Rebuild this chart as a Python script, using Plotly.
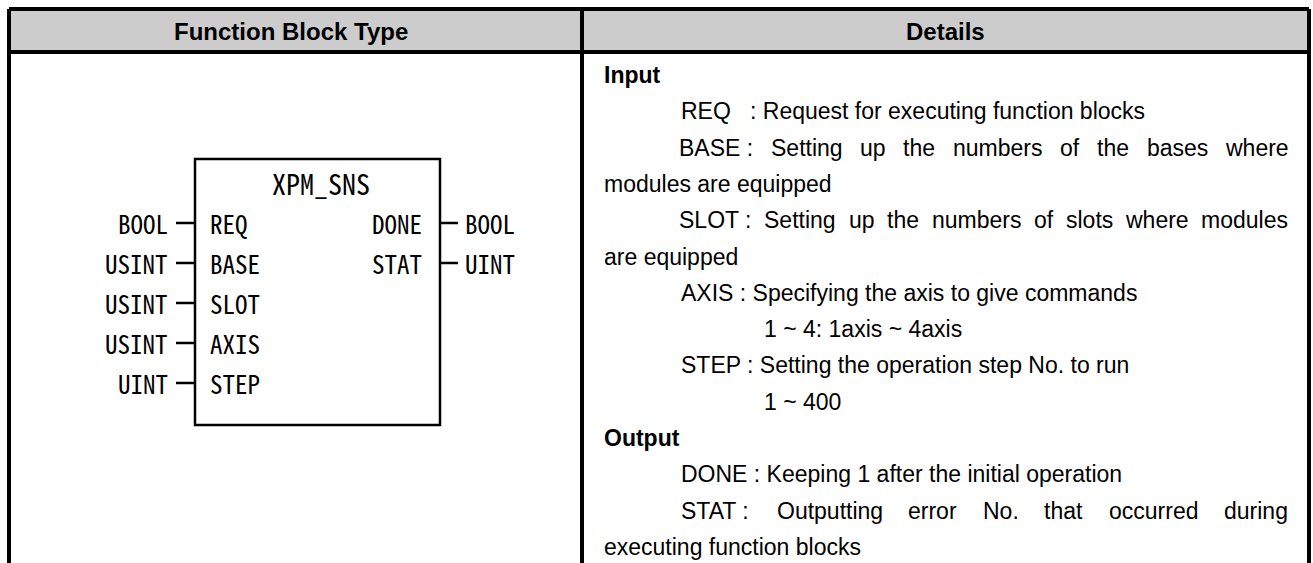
import plotly.graph_objects as go

# ---------------- data ----------------
headers = ["Function Block Type", "Details"]
fb_name = "XPM_SNS"
in_types = ["BOOL", "USINT", "USINT", "USINT", "UINT"]
in_pins = ["REQ", "BASE", "SLOT", "AXIS", "STEP"]
out_pins = ["DONE", "STAT"]
out_types = ["BOOL", "UINT"]

detail_text = [
    "Input",
    "REQ   : Request for executing function blocks",
    "BASE : Setting up the numbers of the bases where",
    "modules are equipped",
    "SLOT : Setting up the numbers of slots where modules",
    "are equipped",
    "AXIS : Specifying the axis to give commands",
    "1 ~ 4: 1axis ~ 4axis",
    "STEP : Setting the operation step No. to run",
    "1 ~ 400",
    "Output",
    "DONE : Keeping 1 after the initial operation",
    "STAT : Outputting error No. that occurred during",
    "executing function blocks",
]
detail_indent = [0, 1, 1, 0, 1, 0, 1, 2, 1, 2, 0, 1, 1, 0]
detail_bold = [True, False, False, False, False, False, False, False, False, False, True, False, False, False]
detail_justify = [False, False, True, False, True, False, False, False, False, False, False, False, True, False]

# ---------------- layout constants ----------------
W, H = 1313, 563
X0, XM, X1 = 9, 582, 1309
Y0, YH = 9, 52
BW = 4
TXT_FONT = "Liberation Sans, Arial, sans-serif"
FB_FONT = "Noto Sans Mono CJK KR, Noto Sans Mono CJK SC, DejaVu Sans Mono, monospace"
FS = 23
line0, dline = 75, 36.3
indent_x = [602, 679, 762]
right_edge = 1288

ARIAL = {' ': 278, 'a': 556, 'b': 556, 'c': 500, 'd': 556, 'e': 556, 'f': 278, 'g': 556, 'h': 556, 'i': 222,
         'j': 222, 'k': 500, 'l': 222, 'm': 833, 'n': 556, 'o': 556, 'p': 556, 'q': 556, 'r': 333, 's': 500,
         't': 278, 'u': 556, 'v': 500, 'w': 722, 'x': 500, 'y': 500, 'z': 500, 'A': 667, 'B': 667, 'C': 722,
         'D': 722, 'E': 667, 'F': 611, 'G': 778, 'H': 722, 'I': 278, 'J': 500, 'K': 667, 'L': 556, 'M': 833,
         'N': 722, 'O': 778, 'P': 667, 'Q': 778, 'R': 722, 'S': 667, 'T': 611, 'U': 722, 'V': 667, 'W': 944,
         'X': 667, 'Y': 667, 'Z': 611, '.': 278, ':': 278, ',': 278, '~': 584}


def text_width(s, size):
    return sum(ARIAL.get(c, 556) for c in s) / 1000.0 * size


fig = go.Figure()
shapes = []
ann = []

# header fill
shapes.append(dict(type="rect", x0=X0, x1=X1, y0=Y0, y1=YH, fillcolor="#cccccc", line_width=0, layer="below"))
# borders
for (xa, ya, xb, yb) in [(X0, Y0, X1, Y0), (X0, YH, X1, YH), (X0, Y0, X0, H + 5), (X1, Y0, X1, H + 5),
                         (XM, Y0, XM, H + 5)]:
    shapes.append(dict(type="line", x0=xa, y0=ya, x1=xb, y1=yb, line=dict(color="black", width=BW)))

# headers
for i, h in enumerate(headers):
    cx = (X0 + XM) / 2 - 5 if i == 0 else (XM + X1) / 2
    ann.append(dict(x=cx, y=(Y0 + YH) / 2 + 1, text=f"<b>{h}</b>", showarrow=False,
                    font=dict(family=TXT_FONT, size=FS + 1, color="black"), xanchor="center", yanchor="middle"))

# details text
for k, t in enumerate(detail_text):
    y = line0 + k * dline
    x = indent_x[detail_indent[k]]
    if detail_justify[k]:
        words = t.split()
        if len(words) > 1 and words[1] == ":":
            words = [words[0] + " " + words[1]] + words[2:]
        widths = [text_width(p, FS) for p in words]
        gap = (right_edge - x - sum(widths)) / (len(words) - 1)
        cur = x
        for j, p in enumerate(words):
            ann.append(dict(x=cur + widths[j] / 2, y=y, text=p, showarrow=False, xanchor="center",
                            yanchor="middle", font=dict(family=TXT_FONT, size=FS, color="black")))
            cur += widths[j] + gap
    else:
        txt = f"<b>{t}</b>" if detail_bold[k] else t.replace("  ", "\u00a0 ")
        ann.append(dict(x=x, y=y, text=txt, showarrow=False, xanchor="left", yanchor="middle",
                        font=dict(family=TXT_FONT, size=FS, color="black")))

# function block diagram
BX0, BX1, BY0, BY1 = 195, 440, 159, 425
shapes.append(dict(type="rect", x0=BX0, x1=BX1, y0=BY0, y1=BY1, line=dict(color="black", width=2.5),
                   fillcolor="white"))
ann.append(dict(x=(BX0 + BX1) / 2 + 3, y=183, text=fb_name, showarrow=False, xanchor="center", yanchor="middle",
                font=dict(family=FB_FONT, size=28, color="black")))
pin0, dpin = 223, 40
FBS = 25
for i, (tp, pn) in enumerate(zip(in_types, in_pins)):
    y = pin0 + i * dpin
    shapes.append(dict(type="line", x0=BX0 - 19, x1=BX0, y0=y, y1=y, line=dict(color="black", width=2.5)))
    ann.append(dict(x=BX0 - 25, y=y, text=tp, showarrow=False, xanchor="right", yanchor="middle",
                    font=dict(family=FB_FONT, size=FBS, color="black")))
    ann.append(dict(x=BX0 + 13, y=y, text=pn, showarrow=False, xanchor="left", yanchor="middle",
                    font=dict(family=FB_FONT, size=FBS, color="black")))
for i, (pn, tp) in enumerate(zip(out_pins, out_types)):
    y = pin0 + i * dpin
    shapes.append(dict(type="line", x0=BX1, x1=BX1 + 18, y0=y, y1=y, line=dict(color="black", width=2.5)))
    ann.append(dict(x=BX1 - 16, y=y, text=pn, showarrow=False, xanchor="right", yanchor="middle",
                    font=dict(family=FB_FONT, size=FBS, color="black")))
    ann.append(dict(x=BX1 + 23, y=y, text=tp, showarrow=False, xanchor="left", yanchor="middle",
                    font=dict(family=FB_FONT, size=FBS, color="black")))

fig.update_layout(
    width=W, height=H, autosize=False,
    margin=dict(l=0, r=0, t=0, b=0),
    paper_bgcolor="white", plot_bgcolor="white",
    xaxis=dict(range=[0, W], visible=False, fixedrange=True),
    yaxis=dict(range=[H, 0], visible=False, fixedrange=True),
    shapes=shapes, annotations=ann, showlegend=False,
)
fig.write_html("out.html", config=dict(displayModeBar=False),
               post_script="document.body.style.margin='0';document.body.style.overflow='hidden';")
